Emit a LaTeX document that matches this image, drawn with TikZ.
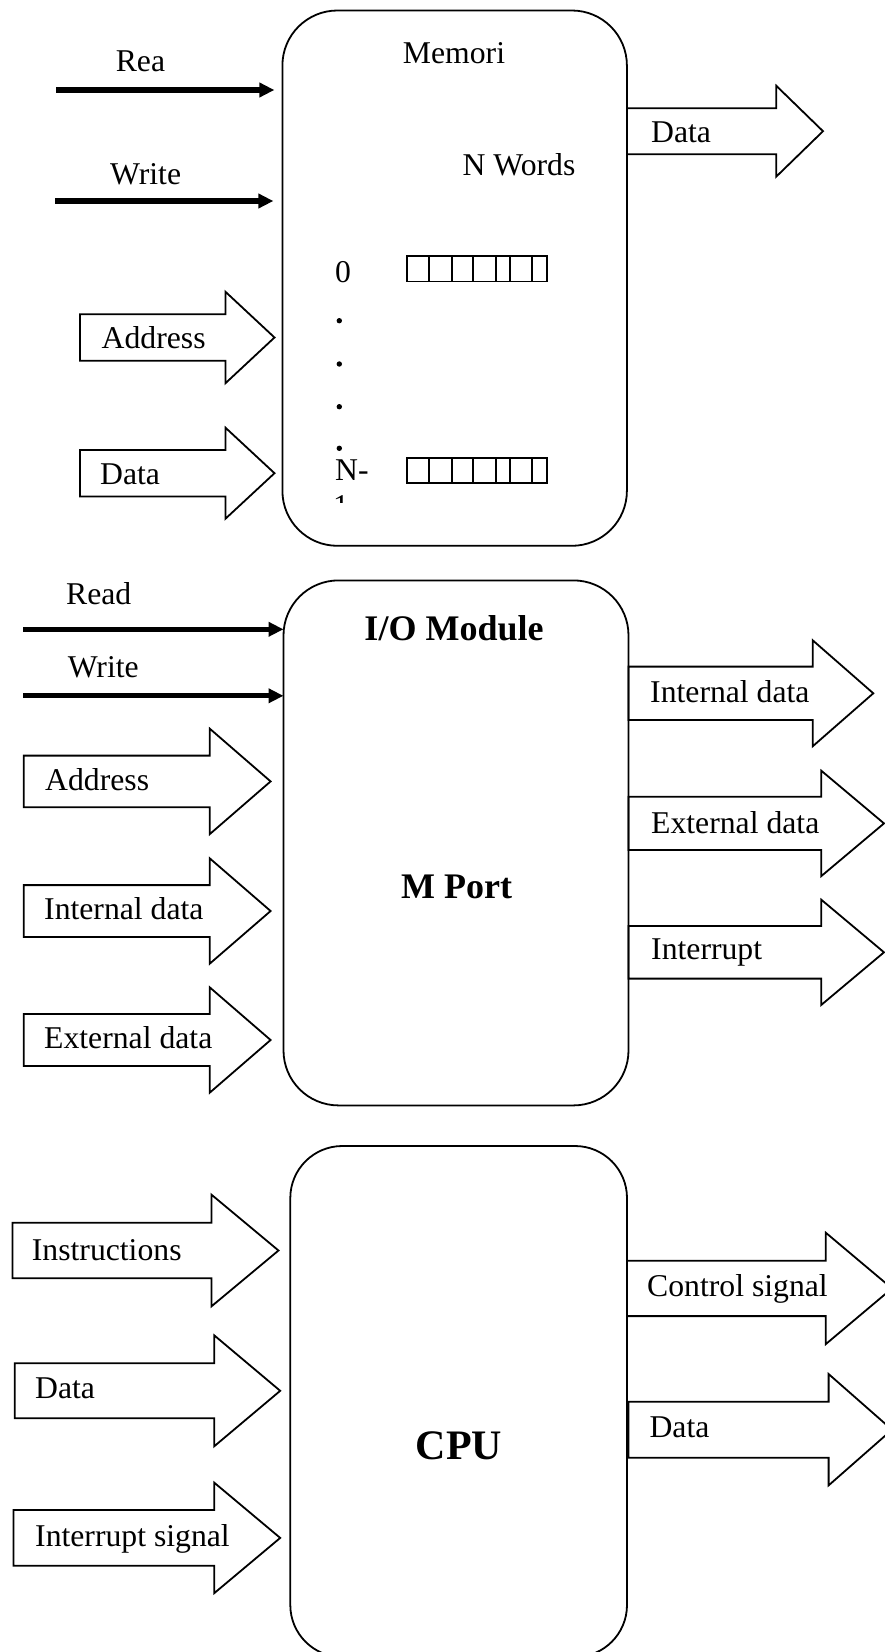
\documentclass[tikz,border=0pt]{standalone}
\usepackage{fontspec}
\setmainfont{Liberation Serif}
\usetikzlibrary{arrows.meta}

% block arrow: start x, head base x, tip x, centre y, shaft half height, head half height
\newcommand{\busarrow}[6]{%
  \draw[bus] (#1,#4-#5) -- (#2,#4-#5) -- (#2,#4-#6) -- (#3,#4)
    -- (#2,#4+#6) -- (#2,#4+#5) -- (#1,#4+#5) -- cycle;}

\tikzset{
  unitbox/.style={draw, line width=1.8pt, rounded corners=#1, inner sep=0pt,
    outer sep=0pt, anchor=north west},
  bus/.style={line width=1.8pt, line join=miter},
  sig/.style={line width=5.3pt, -{Triangle[length=15pt,width=14pt]}},
  cell/.style={line width=1.8pt},
  lbl/.style={inner sep=0pt, anchor=base west, font=\fontsize{31.7}{36}\selectfont},
  title/.style={inner sep=0pt, anchor=base, font=\fontsize{36}{40}\selectfont\bfseries},
  big/.style={inner sep=0pt, anchor=base, font=\fontsize{42}{46}\selectfont\bfseries},
}

\begin{document}
\begin{tikzpicture}[x=1pt,y=-1pt]
\fill[white] (0,0) rectangle (884,1652);
\useasboundingbox (0,0) rectangle (884,1652);

% ---------------- Memory ----------------
\node[unitbox=55pt, minimum width=344.5pt, minimum height=535.3pt] (mem) at (282.4,10.5) {};
\node[lbl, anchor=base] (memT) at (454,63) {Memori};
\node[lbl, anchor=base] (memW) at (519,175) {N Words};

\coordinate (mRd) at (56.4,90);
\coordinate (mWr) at (55.2,201);
\draw[sig, shorten >=8pt] (mRd) -- (mRd -| mem.west);
\draw[sig, shorten >=9pt] (mWr) -- (mWr -| mem.west);
\node[lbl] (mRdL) at (115.6,71.4) {Rea};
\node[lbl] (mWrL) at (110,184) {Write};

\busarrow{80}{225.5}{274.5}{337.5}{23.2}{45.7}
\node[lbl] (mAddr) at (101.5,348) {Address};
\busarrow{80}{225.5}{274.5}{473.2}{23.2}{45.5}
\node[lbl] (mDin) at (100,484) {Data};
\busarrow{626.9}{776.2}{823}{131.2}{23}{45.5}
\node[lbl] (mDout) at (651,142) {Data};

% word indices and storage cells
\node[lbl] (w0) at (335,282) {0};
\foreach \yy in {320.7,364,406.7,448.3} \fill (339.3,\yy) circle (2.7pt);
\node[lbl] (wN) at (335,480) {N-};
\begin{scope}
  \clip (320,488) rectangle (380,502);
  \node[lbl] (wN1) at (333,516) {1};
\end{scope}
\foreach \yy in {256,457.7} {
  \draw[cell] (406.7,\yy) rectangle (547.3,\yy+25.5);
  \foreach \xx in {429,452.3,472.7,495.7,510,532.3}
    \draw[cell] (\xx,\yy) -- (\xx,\yy+25.5);
}

% ---------------- I/O module ----------------
\node[unitbox=55pt, minimum width=345pt, minimum height=525pt] (io) at (283.5,580.4) {};
\node[title] (ioT) at (454,640.5) {I/O Module};
\node[title] (ioP) at (456.7,898) {M Port};

\coordinate (iRd) at (23,629.3);
\coordinate (iWr) at (23,695.8);
\draw[sig] (iRd) -- (iRd -| io.west);
\draw[sig] (iWr) -- (iWr -| io.west);
\node[lbl] (iRdL) at (66,604) {Read};
\node[lbl] (iWrL) at (67.6,677) {Write};

\busarrow{23.7}{209.7}{270.6}{781.4}{25.8}{52.8}
\node[lbl] (iAddr) at (45,790.4) {Address};
\busarrow{23.7}{209.7}{270.6}{911}{25.9}{52.7}
\node[lbl] (iInt) at (44,919) {Internal data};
\busarrow{23.7}{209.7}{270.6}{1040}{26}{52.7}
\node[lbl] (iExt) at (44,1048.6) {External data};

\busarrow{628.5}{812.7}{873.3}{693.3}{26.7}{53}
\node[lbl] (oInt) at (650,702.7) {Internal data};
\busarrow{628.5}{821.3}{884}{823.4}{26.6}{52.7}
\node[lbl] (oExt) at (651,833.2) {External data};
\busarrow{628.5}{821.3}{884}{952.3}{26.3}{52.6}
\node[lbl] (oIrq) at (651,959.3) {Interrupt};

% ---------------- CPU ----------------
\node[unitbox=52pt, minimum width=336.7pt, minimum height=511pt] (cpu) at (290.3,1146) {};
\node[big] (cpuT) at (459,1459.3) {CPU};

\busarrow{12.4}{211.4}{278.5}{1250.5}{27.8}{55.9}
\node[lbl] (cIns) at (31.7,1260) {Instructions};
\busarrow{14.7}{214.2}{280.2}{1390.8}{27.5}{55.5}
\node[lbl] (cDat) at (35,1398.3) {Data};
\busarrow{13.5}{214.2}{280.2}{1537.9}{27.9}{55.3}
\node[lbl] (cIrq) at (35,1546.7) {Interrupt signal};

\busarrow{627}{825.8}{892}{1288.4}{27.7}{55.7}
\node[lbl] (cCtl) at (647,1296.7) {Control signal};
\busarrow{628.5}{828.6}{892}{1429.7}{28}{55.7}
\node[lbl] (cOut) at (649.4,1437.3) {Data};
\end{tikzpicture}
\end{document}
